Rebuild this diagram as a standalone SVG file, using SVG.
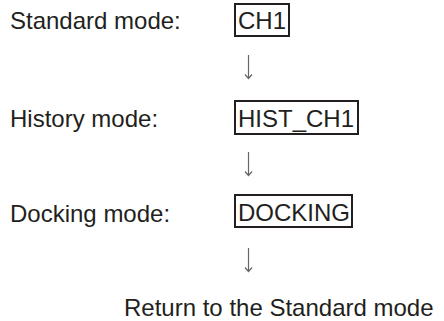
<svg xmlns="http://www.w3.org/2000/svg" width="444" height="321" viewBox="0 0 444 321">
<style>
text{font-family:"Liberation Sans",Arial,sans-serif;font-size:24px;fill:#231f20}
.box{fill:none;stroke:#231f20;stroke-width:2}
.arr{fill:none;stroke:#666;stroke-width:1.2}
</style>
<rect width="444" height="321" fill="#fff"/>
<g id="standard">
<text x="10" y="29">Standard mode:</text>
<rect class="box" x="235" y="4" width="54" height="32"/>
<text x="238" y="29">CH1</text>
</g>
<g id="history">
<text x="10" y="127">History mode:</text>
<rect class="box" x="235" y="101" width="123" height="33"/>
<text x="238" y="127">HIST_CH1</text>
</g>
<g id="docking">
<text x="10" y="222">Docking mode:</text>
<rect class="box" x="235" y="195" width="117" height="32"/>
<text x="238" y="221">DOCKING</text>
</g>
<g id="return">
<text x="124" y="316">Return to the Standard mode</text>
</g>
<g id="connectors">
<path class="arr" d="M248.5 55V78.5M245 74.5L248.5 78.5L252 74.5"/>
<path class="arr" d="M248.5 152V175.5M245 171.5L248.5 175.5L252 171.5"/>
<path class="arr" d="M248.5 248V271.5M245 267.5L248.5 271.5L252 267.5"/>
</g>
</svg>
